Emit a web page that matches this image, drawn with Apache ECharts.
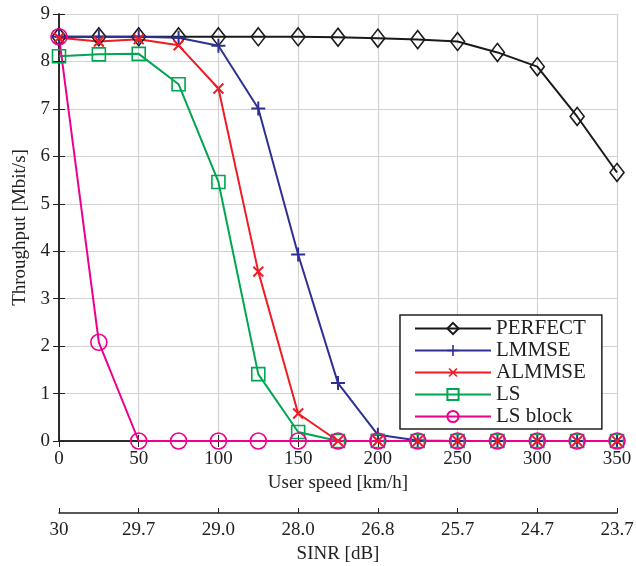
<!DOCTYPE html>
<html>
<head>
<meta charset="utf-8">
<script src="https://cdn.jsdelivr.net/npm/echarts@6/dist/echarts.min.js"></script>
<style>
  html, body { margin: 0; padding: 0; background: #fff; }
  #chart { width: 636px; height: 566px; }
</style>
</head>
<body>
<div id="chart"></div>
<script>
// user speed in km/h
var speed = [0, 25, 50, 75, 100, 125, 150, 175, 200, 225, 250, 275, 300, 325, 350]
var perfect = [8.52, 8.52, 8.52, 8.52, 8.52, 8.52, 8.52, 8.51, 8.49, 8.46, 8.42, 8.19, 7.89, 6.84, 5.66]
var lmmse = [8.52, 8.52, 8.52, 8.5, 8.33, 7.01, 3.93, 1.22, 0.13, 0.01, 0, 0, 0, 0, 0]
var almmse = [8.5, 8.42, 8.47, 8.34, 7.43, 3.57, 0.58, 0, 0, 0, 0, 0, 0, 0, 0]
var ls = [8.11, 8.15, 8.16, 7.52, 5.46, 1.41, 0.19, 0, 0, 0, 0, 0, 0, 0, 0]
var lsBlock = [8.52, 2.08, 0, 0, 0, 0, 0, 0, 0, 0, 0, 0, 0, 0, 0]
// SINR labels under speed ticks 0, 50, ..., 350
var sinrLabels = ['30', '29.7', '29.0', '28.0', '26.8', '25.7', '24.7', '23.7']

var FONT = 'Liberation Serif'
var plusPath = 'path://M6,0H8V6H14V8H8V14H6V8H0V6H6Z'

function pairs (ys) {
  return speed.map(function (x, i) { return [x, ys[i]] })
}

function hollow (name, ys, color, symbol, size) {
  return {
    name: name,
    type: 'line',
    data: pairs(ys),
    symbol: symbol,
    symbolSize: size,
    showAllSymbol: true,
    lineStyle: { color: color, width: 2 },
    itemStyle: { color: 'rgba(0,0,0,0)', borderColor: color, borderWidth: 1.6 },
    emphasis: { disabled: true }
  }
}

function filled (name, ys, color, rotate, size) {
  return {
    name: name,
    type: 'line',
    data: pairs(ys),
    symbol: plusPath,
    symbolRotate: rotate,
    symbolSize: size,
    showAllSymbol: true,
    lineStyle: { color: color, width: 2 },
    itemStyle: { color: color },
    emphasis: { disabled: true }
  }
}

var labelStyle = { fontFamily: FONT, fontSize: 19, color: '#222' }
var axisLine = { show: true, lineStyle: { color: '#222', width: 1.5 } }

var option = {
  animation: false,
  grid: { left: 59, right: 19, top: 14, bottom: 125, show: false, outerBoundsMode: 'none', containLabel: false },
  legend: {
    left: 400,
    top: 315,
    orient: 'vertical',
    backgroundColor: '#fff',
    borderColor: '#222',
    borderWidth: 1.5,
    borderRadius: 0,
    padding: [3, 16, 2, 14],
    itemGap: 1,
    itemWidth: 76,
    itemHeight: 14,
    textStyle: { fontFamily: FONT, fontSize: 21, color: '#222', lineHeight: 21 },
    data: ['PERFECT', 'LMMSE', 'ALMMSE', 'LS', 'LS block']
  },
  xAxis: [{
    type: 'value',
    min: 0,
    max: 350,
    interval: 50,
    position: 'bottom',
    name: 'User speed [km/h]',
    nameLocation: 'middle',
    nameGap: 32,
    nameTextStyle: labelStyle,
    axisLine: axisLine,
    axisTick: { show: true, inside: true, length: 6, lineStyle: { color: '#222' } },
    axisLabel: Object.assign({ margin: 9 }, labelStyle),
    splitLine: { show: true, lineStyle: { color: '#d2d2d2', width: 1.2 } }
  }, {
    type: 'value',
    min: 0,
    max: 350,
    interval: 50,
    position: 'top',
    axisLine: axisLine,
    axisTick: { show: true, inside: true, length: 6, lineStyle: { color: '#222' } },
    axisLabel: { show: false },
    splitLine: { show: false }
  }, {
    type: 'value',
    min: 0,
    max: 350,
    interval: 50,
    position: 'bottom',
    offset: 72,
    name: 'SINR [dB]',
    nameLocation: 'middle',
    nameGap: 28,
    nameTextStyle: labelStyle,
    axisLine: axisLine,
    axisTick: { show: true, inside: true, length: 5, lineStyle: { color: '#222' } },
    axisLabel: Object.assign({
      margin: 8,
      formatter: function (v) { return sinrLabels[Math.round(v / 50)] }
    }, labelStyle),
    splitLine: { show: false }
  }],
  yAxis: [{
    type: 'value',
    min: 0,
    max: 9,
    interval: 1,
    name: 'Throughput [Mbit/s]',
    nameLocation: 'middle',
    nameGap: 28,
    nameTextStyle: labelStyle,
    axisLine: axisLine,
    axisTick: { show: true, inside: true, length: 6, lineStyle: { color: '#222' } },
    axisLabel: Object.assign({ margin: 9 }, labelStyle),
    splitLine: { show: true, lineStyle: { color: '#d2d2d2', width: 1.2 } }
  }, {
    type: 'value',
    min: 0,
    max: 9,
    interval: 1,
    position: 'right',
    axisLine: axisLine,
    axisTick: { show: true, inside: true, length: 6, lineStyle: { color: '#222' } },
    axisLabel: { show: false },
    splitLine: { show: false }
  }],
  series: [
    hollow('PERFECT', perfect, '#1a1a1a', 'diamond', [14, 18]),
    filled('LMMSE', lmmse, '#2e3192', 0, 14),
    filled('ALMMSE', almmse, '#ee1c24', 45, 14),
    hollow('LS', ls, '#00a651', 'rect', 13),
    hollow('LS block', lsBlock, '#ec008c', 'circle', 16)
  ]
}

var chart = echarts.init(document.getElementById('chart'))
chart.setOption(option)
</script>
</body>
</html>
